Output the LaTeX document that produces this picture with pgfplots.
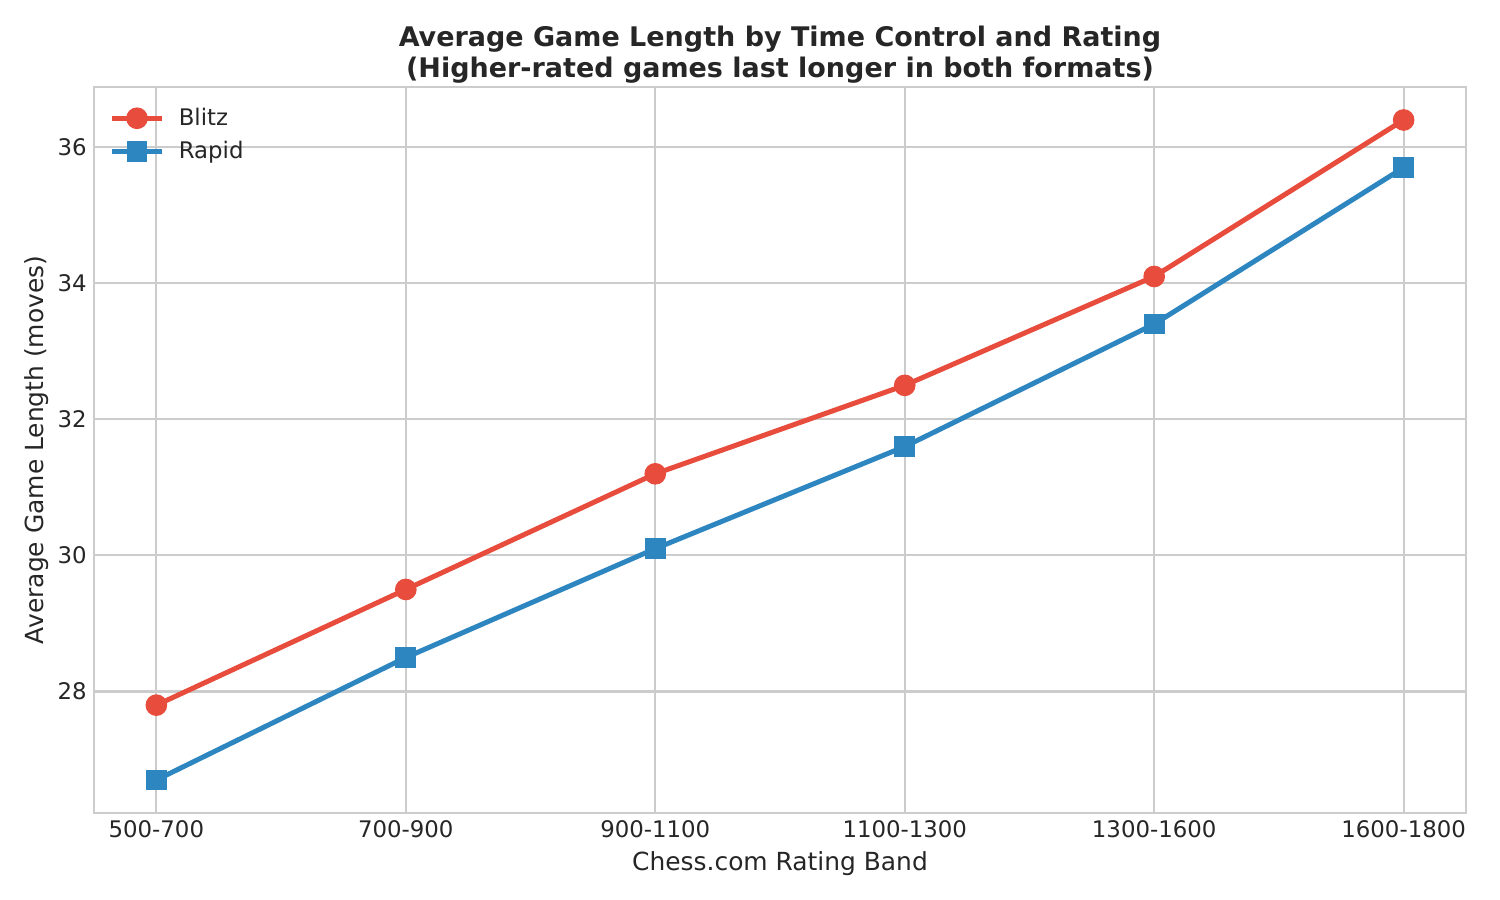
\documentclass[border=0pt]{standalone}
\usepackage{fontspec}
\setmainfont{DejaVu Sans}
\usepackage{pgfplots}
\pgfplotsset{compat=1.18}
\definecolor{blitz}{HTML}{E74C3C}
\definecolor{rapid}{HTML}{2E86C1}
\definecolor{gridc}{HTML}{CCCCCC}
\definecolor{txt}{HTML}{262626}

\begin{document}
\begin{tikzpicture}
\begin{axis}[
  scale only axis,
  width=9.147in, height=4.84in,
  xmin=-0.25, xmax=5.25, ymin=26.215, ymax=36.885,
  xtick={0,...,5},
  xticklabels={500-700,700-900,900-1100,1100-1300,1300-1600,1600-1800},
  ytick={28,30,32,34,36},
  grid=major,
  major grid style={gridc, line width=1pt},
  axis line style={gridc, line width=1pt},
  major tick length=0pt,
  tick style={draw=none},
  /pgf/number format/assume math mode=true,
  ticklabel style={font=\fontsize{11}{13}\selectfont, text=txt},
  xlabel={Chess.com Rating Band},
  ylabel={Average Game Length (moves)},
  ylabel shift=-2.5pt,
  label style={font=\fontsize{12}{14}\selectfont, text=txt},
  title={Average Game Length by Time Control and Rating\\(Higher-rated games last longer in both formats)},
  title style={align=center, font=\bfseries\fontsize{13}{15}\selectfont, text=txt, yshift=-8pt},
  legend style={at={(0.0066,0.983)}, anchor=north west, draw=none, fill=none,
    font=\fontsize{11}{13}\selectfont, text=txt, row sep=2pt, column sep=5pt,
    nodes={inner sep=2pt}},
  legend cell align=left,
  legend image code/.code={
    \draw[mark repeat=2, mark phase=2] plot coordinates {(0cm,0cm) (0.42cm,0cm) (0.84cm,0cm)};
  },
]
\addplot[blitz, line width=2.4pt, mark=*, mark size=4pt] coordinates {
  (0,27.8) (1,29.5) (2,31.2) (3,32.5) (4,34.1) (5,36.4)};
\addlegendentry{Blitz}
\addplot[rapid, line width=2.4pt, mark=square*, mark size=3.8pt] coordinates {
  (0,26.7) (1,28.5) (2,30.1) (3,31.6) (4,33.4) (5,35.7)};
\addlegendentry{Rapid}
\end{axis}
\pgfresetboundingbox
\useasboundingbox ([xshift=-0.6267in, yshift=-0.58in]current axis.south west)
  rectangle ([xshift=0.2267in, yshift=0.58in]current axis.north east);
\end{tikzpicture}
\end{document}
